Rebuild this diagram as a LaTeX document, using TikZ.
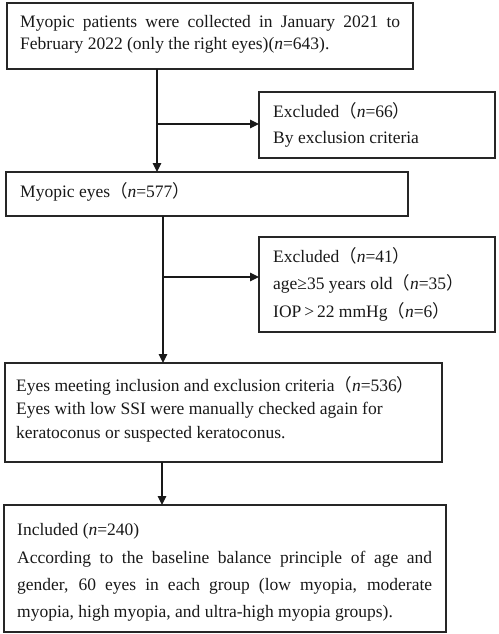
\documentclass[tikz,border=0pt]{standalone}
\usepackage{fontspec}
\setmainfont{Liberation Serif}
\newfontfamily\cjkfont{Noto Sans CJK SC}
\usetikzlibrary{arrows.meta}
\newcommand{\flp}{{\cjkfont （}}
\newcommand{\frp}{{\cjkfont ）}}
\begin{document}
\begin{tikzpicture}[x=1pt,y=-1pt,
  box/.style={draw=black!85, line width=1.3pt, inner sep=0pt, outer sep=0pt, anchor=north west},
  txt/.style={inner sep=0pt, anchor=base west, font=\fontsize{17.5}{21}\selectfont, text=black!90},
  arr/.style={draw=black!90, line width=1.1pt, -{Triangle[length=9pt,width=8.5pt]}},
  ln/.style={draw=black!90, line width=1.1pt}]
\useasboundingbox (0,0) rectangle (498,634);
\fill[white] (0,0) rectangle (498,634);

% boxes
\node[box, minimum width=406pt, minimum height=66pt] (b1) at (7,3) {};
\node[box, minimum width=236pt, minimum height=66pt] (ea) at (259,92) {};
\node[box, minimum width=402pt, minimum height=44pt] (b2) at (6,172) {};
\node[box, minimum width=236pt, minimum height=95pt] (eb) at (259,237) {};
\node[box, minimum width=437pt, minimum height=99pt] (b3) at (5,363) {};
\node[box, minimum width=442pt, minimum height=127pt] (b4) at (4,505) {};

% texts
\node[txt] (t1a) at (20,28) {\makebox[380pt][s]{Myopic patients were collected in January 2021 to}};
\node[txt] (t1b) at (20,50) {February 2022 (only the right eyes)(\textit{n}=643).};

\node[txt] (tea) at (273,117) {Excluded\flp\textit{n}=66\frp};
\node[txt] (teb) at (273,143) {By exclusion criteria};

\node[txt] (t2) at (20,197) {Myopic eyes\flp\textit{n}=577\frp};

\node[txt] (tba) at (273,262) {Excluded\flp\textit{n}=41\frp};
\node[txt] (tbb) at (273,289) {age≥35 years old\flp\textit{n}=35\frp};
\node[txt] (tbc) at (273,317) {IOP\,>\,22 mmHg\flp\textit{n}=6\frp};

\node[txt] (t3a) at (16,391) {Eyes meeting inclusion and exclusion criteria\flp\textit{n}=536\frp};
\node[txt] (t3b) at (16,414) {Eyes with low SSI were manually checked again for};
\node[txt] (t3c) at (16,438) {keratoconus or suspected keratoconus.};

\node[txt] (t4a) at (17,535) {Included (\textit{n}=240)};
\node[txt] (t4b) at (17,563) {\makebox[415pt][s]{According to the baseline balance principle of age and}};
\node[txt] (t4c) at (17,590) {\makebox[415pt][s]{gender, 60 eyes in each group (low myopia, moderate}};
\node[txt] (t4d) at (17,617) {myopia, high myopia, and ultra-high myopia groups).};

% connectors
\coordinate (c1) at (157,124);
\coordinate (c2) at (163,277);
\coordinate (c3) at (162,480);
\draw[arr] (b1.south -| c1) -- (b2.north -| c1);
\draw[arr] (c1) -- (ea.west |- c1);
\draw[arr] (b2.south -| c2) -- (b3.north -| c2);
\draw[arr] (c2) -- (eb.west |- c2);
\draw[arr] (b3.south -| c3) -- (b4.north -| c3);
\end{tikzpicture}
\end{document}
